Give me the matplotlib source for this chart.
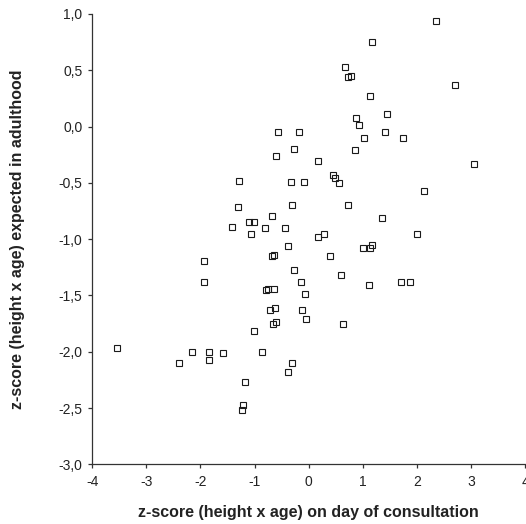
import matplotlib
matplotlib.use("Agg")
import matplotlib.pyplot as plt
from matplotlib.ticker import FuncFormatter

plt.rcParams['font.family'] = ['Liberation Sans', 'DejaVu Sans']

# z-score at consultation (x) vs z-score expected in adulthood (y)
z_consult = [2.35, 1.18, 0.67, 0.72, 0.78, 2.70, 1.13, 0.88, 1.44, 0.94,
             1.41, 1.02, 1.75, -0.57, -0.17, -0.28, -0.60, 0.86, 0.18, 3.05,
             -1.28, -0.33, -0.09, 0.45, 0.49, 0.56, 2.14, -1.31, -0.31, 0.72,
             -0.68, 1.35, -1.42, -1.10, -1.01, -1.07, -0.80, -0.44, 0.18, 0.29,
             2.00, -0.39, 1.00, 1.13, 1.18, -1.93, -0.68, -0.65, 0.40, -0.28,
             -1.93, -0.14, 0.59, 1.11, 1.70, 1.88, -0.78, -0.75, -0.65, -0.06,
             -0.72, -0.63, -0.12, -0.04, -0.66, -0.60, 0.64, -1.01, -3.54, -2.15,
             -2.39, -1.85, -1.85, -1.58, -0.87, -0.31, -0.39, -1.17, -1.21, -1.23]
z_adult = [0.94, 0.75, 0.53, 0.44, 0.45, 0.37, 0.27, 0.08, 0.11, 0.01,
           -0.05, -0.10, -0.10, -0.05, -0.05, -0.20, -0.26, -0.21, -0.31, -0.33,
           -0.48, -0.49, -0.49, -0.43, -0.46, -0.50, -0.57, -0.71, -0.70, -0.70,
           -0.79, -0.81, -0.89, -0.85, -0.85, -0.95, -0.90, -0.90, -0.98, -0.95,
           -0.95, -1.06, -1.08, -1.08, -1.05, -1.19, -1.15, -1.14, -1.15, -1.27,
           -1.38, -1.38, -1.32, -1.41, -1.38, -1.38, -1.45, -1.44, -1.44, -1.49,
           -1.63, -1.61, -1.63, -1.71, -1.75, -1.74, -1.75, -1.82, -1.97, -2.00,
           -2.10, -2.00, -2.07, -2.01, -2.00, -2.10, -2.18, -2.27, -2.47, -2.52]

x_ticks = [-4, -3, -2, -1, 0, 1, 2, 3, 4]
y_ticks = [1.0, 0.5, 0.0, -0.5, -1.0, -1.5, -2.0, -2.5, -3.0]

fig = plt.figure(figsize=(5.26, 5.24), dpi=100)
ax = fig.add_axes([0.1755, 0.1139, 0.8226, 0.8594])

ax.plot(z_consult, z_adult, 's', ms=4.0, mfc='none', mec='#1a1a1a', mew=0.8,
        clip_on=False)

ax.set_xlim(-4, 4)
ax.set_ylim(-3, 1)
ax.set_xticks(x_ticks)
ax.set_yticks(y_ticks)
ax.yaxis.set_major_formatter(FuncFormatter(lambda v, p: f"{v:.1f}".replace('.', ',')))
ax.xaxis.set_major_formatter(FuncFormatter(lambda v, p: f"{v:.0f}"))

for s in ['top', 'right']:
    ax.spines[s].set_visible(False)
for s in ['left', 'bottom']:
    ax.spines[s].set_color('#333333')
    ax.spines[s].set_linewidth(0.9)
ax.tick_params(direction='out', length=3, width=0.9, color='#333333',
               labelsize=10, labelcolor='#222222')
ax.tick_params(axis='y', pad=4)
ax.tick_params(axis='x', pad=5)

ax.set_xlabel('z-score (height x age) on day of consultation', fontsize=11.5,
              fontweight='bold', color='#222222', va='center')
ax.xaxis.set_label_coords(0.5, -0.106)
ax.set_ylabel('z-score (height x age) expected in adulthood', fontsize=11.5,
              fontweight='bold', color='#222222', va='center')
ax.yaxis.set_label_coords(-0.172, 0.5)

fig.savefig('out.png', dpi=100)
